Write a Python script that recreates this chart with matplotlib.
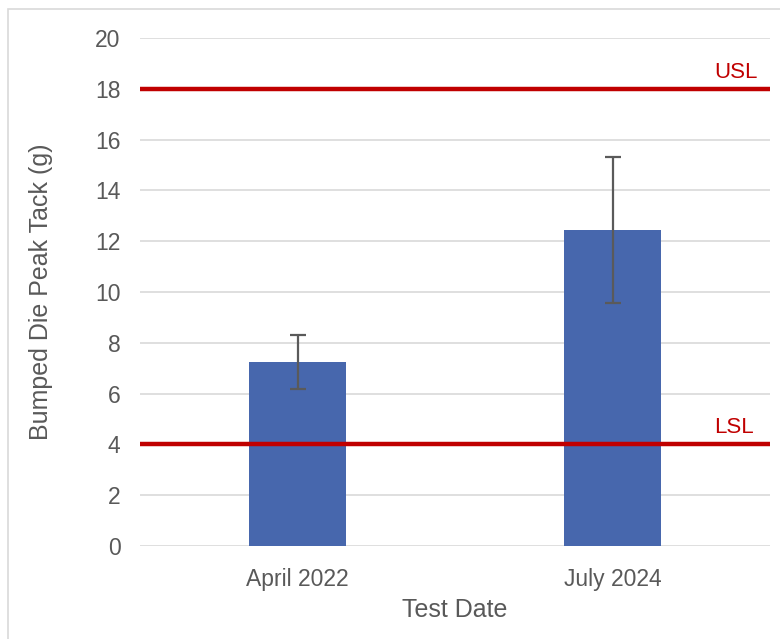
import matplotlib
matplotlib.use("Agg")
import matplotlib.pyplot as plt
from matplotlib.patches import Rectangle
import matplotlib.transforms as mtransforms

categories = ["April 2022", "July 2024"]
means = [7.25, 12.45]
err_low = [6.2, 9.57]
err_high = [8.3, 15.3]
usl = 18
lsl = 4
yticks = list(range(0, 21, 2))

plt.rcParams['font.family'] = ['Liberation Sans', 'DejaVu Sans']

fig = plt.figure(figsize=(7.8, 6.39), dpi=100)
fig.patches.append(Rectangle((8/780, -0.1), 1.2, 1 - 9/639 + 0.1, transform=fig.transFigure,
                             fill=False, edgecolor='#D9D9D9', linewidth=1.2))
ax = fig.add_axes([140/780, 1 - 546/639, 630/780, (546 - 38)/639])

x = list(range(len(categories)))
yerr = [[m - l for m, l in zip(means, err_low)], [h - m for m, h in zip(means, err_high)]]
ax.bar(x, means, width=0.31, color='#4767AD', zorder=3)
ax.errorbar(x, means, yerr=yerr, fmt='none', ecolor='#5A5A5A', elinewidth=1.6,
            capsize=6, capthick=1.6, zorder=4)

ax.axhline(usl, color='#C00000', linewidth=3.2, zorder=5)
ax.axhline(lsl, color='#C00000', linewidth=3.2, zorder=5)
trans = mtransforms.blended_transform_factory(ax.transAxes, ax.transData)
ax.text(0.98, usl + 0.43, "USL", color='#C00000', fontsize=16, ha='right', va='baseline', transform=trans)
ax.text(0.974, lsl + 0.43, "LSL", color='#C00000', fontsize=16, ha='right', va='baseline', transform=trans)

ax.set_xlim(-0.5, 1.5)
ax.set_ylim(0, 20)
ax.set_yticks(yticks)
ax.set_xticks(x)
ax.set_xticklabels(categories)
ax.yaxis.grid(True, color='#D9D9D9', linewidth=1.2, zorder=0)
ax.set_axisbelow(True)
for s in ax.spines.values():
    s.set_visible(False)
ax.tick_params(axis='both', length=0, colors='#595959', labelsize=16.5)
ax.tick_params(axis='y', pad=14)
ax.tick_params(axis='x', pad=16)
ax.set_ylabel("Bumped Die Peak Tack (g)", fontsize=18, color='#595959', labelpad=30)
ax.set_xlabel("Test Date", fontsize=18, color='#595959', labelpad=5)

fig.savefig("out.png", dpi=100)
